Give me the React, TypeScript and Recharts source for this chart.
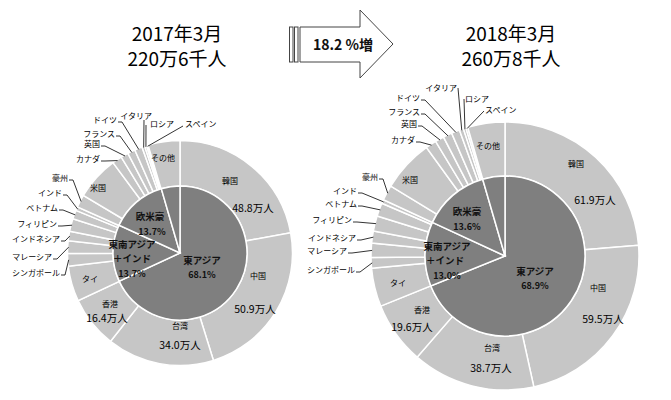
import React from 'react';
import { PieChart, Pie } from 'recharts';

// ---------- data ----------
const countries = [
  '韓国', '中国', '台湾', '香港', 'タイ', 'シンガポール', 'マレーシア', 'インドネシア',
  'フィリピン', 'ベトナム', 'インド', '豪州', '米国', 'カナダ', '英国', 'フランス',
  'ドイツ', 'イタリア', 'ロシア', 'スペイン', 'その他',
];
// visitors, 万人
const visitors2017 = [48.8, 50.9, 34.0, 16.4, 11.2, 4.0, 4.0, 3.0, 4.0, 2.8, 1.2, 4.0, 13.9, 3.1, 2.4, 2.4, 2.4, 0.9, 0.6, 0.5, 10.1];
const visitors2018 = [61.9, 59.5, 38.7, 19.6, 12.1, 3.3, 4.5, 3.8, 4.8, 4.2, 1.2, 4.8, 16.4, 3.4, 2.8, 2.8, 2.6, 1.3, 0.8, 0.6, 11.7];

const regions = ['東アジア', '東南アジア\n＋インド', '欧米豪', 'その他'];
const regionShare2017 = [68.1, 13.7, 13.7, 4.5];
const regionShare2018 = [68.9, 13.0, 13.6, 4.5];

const periods = ['2017年3月', '2018年3月'];
const totals = ['220万6千人', '260万8千人'];
const growthLabel = '18.2 %増';

// ---------- layout ----------
const FONT = "'Noto Sans CJK JP', 'Noto Sans', sans-serif";
const W = 671;
const H = 400;
const OUTER_FILL = '#c6c6c6';
const INNER_FILL = '#7f7f7f';

type Pt = [number, number];
type LabelLayout =
  | { kind: 'in'; name: Pt; value?: Pt }
  | { kind: 'out'; at: Pt; anchor: 'start' | 'end'; from?: Pt };

const outerLayout2017: LabelLayout[] = [
  { kind: 'in', name: [50, -73], value: [73, -46] },
  { kind: 'in', name: [78, 22], value: [75, 55] },
  { kind: 'in', name: [0, 72], value: [0, 91] },
  { kind: 'in', name: [-70, 50], value: [-73, 64] },
  { kind: 'in', name: [-90, 25] },
  { kind: 'out', at: [-120, 19], anchor: 'end' },
  { kind: 'out', at: [-128, 3], anchor: 'end' },
  { kind: 'out', at: [-120, -15], anchor: 'end' },
  { kind: 'out', at: [-123, -30], anchor: 'end' },
  { kind: 'out', at: [-122, -46], anchor: 'end' },
  { kind: 'out', at: [-118, -61], anchor: 'end' },
  { kind: 'out', at: [-112, -76], anchor: 'end' },
  { kind: 'in', name: [-82, -66] },
  { kind: 'out', at: [-80, -95], anchor: 'end' },
  { kind: 'out', at: [-80, -110], anchor: 'end' },
  { kind: 'out', at: [-65, -120], anchor: 'end' },
  { kind: 'out', at: [-63, -134], anchor: 'end' },
  { kind: 'out', at: [-28, -138], anchor: 'end', from: [-36, -133] },
  { kind: 'out', at: [-30, -130], anchor: 'start', from: [-34, -128] },
  { kind: 'out', at: [5, -130], anchor: 'start', from: [3, -127] },
  { kind: 'in', name: [-17, -96] },
];

const outerLayout2018: LabelLayout[] = [
  { kind: 'in', name: [71, -93], value: [90, -57] },
  { kind: 'in', name: [93, 31], value: [98, 62] },
  { kind: 'in', name: [-13, 91], value: [-14, 111] },
  { kind: 'in', name: [-83, 53], value: [-93, 70] },
  { kind: 'in', name: [-107, 26] },
  { kind: 'out', at: [-150, 13], anchor: 'end' },
  { kind: 'out', at: [-158, -6], anchor: 'end' },
  { kind: 'out', at: [-149, -19], anchor: 'end' },
  { kind: 'out', at: [-153, -37], anchor: 'end' },
  { kind: 'out', at: [-148, -53], anchor: 'end' },
  { kind: 'out', at: [-148, -66], anchor: 'end' },
  { kind: 'out', at: [-127, -80], anchor: 'end' },
  { kind: 'in', name: [-95, -77] },
  { kind: 'out', at: [-90, -117], anchor: 'end' },
  { kind: 'out', at: [-88, -133], anchor: 'end' },
  { kind: 'out', at: [-85, -145], anchor: 'end' },
  { kind: 'out', at: [-85, -159], anchor: 'end' },
  { kind: 'out', at: [-48, -169], anchor: 'end', from: [-47, -168] },
  { kind: 'out', at: [-40, -158], anchor: 'start', from: [-41, -157] },
  { kind: 'out', at: [-20, -147], anchor: 'start', from: [-21, -145] },
  { kind: 'in', name: [-17, -111] },
];

type InnerLayout = { lines: Pt[]; pct: Pt } | null;
const innerLayout2017: InnerLayout[] = [
  { lines: [[22, 7]], pct: [22, 21] },
  { lines: [[-48, -9], [-48, 5]], pct: [-48, 20] },
  { lines: [[-30, -37]], pct: [-28, -22] },
  null,
];
const innerLayout2018: InnerLayout[] = [
  { lines: [[30, 15]], pct: [30, 29] },
  { lines: [[-58, -10], [-60, 4]], pct: [-58, 19] },
  { lines: [[-38, -45]], pct: [-38, -30] },
  null,
];

const RAD = Math.PI / 180;
const polar = (cx: number, cy: number, r: number, angle: number): Pt => [
  cx + r * Math.cos(-angle * RAD),
  cy + r * Math.sin(-angle * RAD),
];

const makeOuterLabel = (layout: LabelLayout[]) => (p: any) => {
  const { cx, cy, midAngle, outerRadius, index, name, value } = p;
  const L = layout[index];
  if (!L) return null;
  if (L.kind === 'in') {
    return (
      <g key={`ol-${index}`}>
        <text x={cx + L.name[0]} y={cy + L.name[1]} fontSize={8} fontFamily={FONT} fill="#000"
          textAnchor="middle" dominantBaseline="central">{name}</text>
        {L.value && (
          <text x={cx + L.value[0]} y={cy + L.value[1]} fontSize={10.5} fontFamily={FONT} fill="#000"
            textAnchor="middle" dominantBaseline="central">{`${Number(value).toFixed(1)}万人`}</text>
        )}
      </g>
    );
  }
  const tx = cx + L.at[0];
  const ty = cy + L.at[1];
  const end = polar(cx, cy, outerRadius - 1, midAngle);
  let pts: Pt[];
  if (L.from) {
    pts = [[cx + L.from[0], cy + L.from[1]], end];
  } else {
    const p0: Pt = [tx + 1, ty + 3];
    const p1: Pt = [tx + 5, ty + 3];
    pts = [p0, p1, end];
  }
  return (
    <g key={`ol-${index}`}>
      <polyline points={pts.map((q) => q.join(',')).join(' ')} fill="none" stroke="#000" strokeWidth={0.8} />
      <text x={tx} y={ty} fontSize={8} fontFamily={FONT} fill="#000" textAnchor={L.anchor}
        dominantBaseline="central">{name}</text>
    </g>
  );
};

const makeInnerLabel = (layout: InnerLayout[]) => (p: any) => {
  const { cx, cy, index, name, value } = p;
  const L = layout[index];
  if (!L) return null;
  const lines = String(name).split('\n');
  return (
    <g key={`il-${index}`}>
      {lines.map((s, i) => (
        <text key={i} x={cx + L.lines[i][0]} y={cy + L.lines[i][1]} fontSize={9.5} fontWeight="bold"
          fontFamily={FONT} fill="#111" textAnchor="middle" dominantBaseline="central">{s}</text>
      ))}
      <text x={cx + L.pct[0]} y={cy + L.pct[1]} fontSize={9} fontWeight="bold" fontFamily={FONT}
        fill="#111" textAnchor="middle" dominantBaseline="central">{`${Number(value).toFixed(1)}%`}</text>
    </g>
  );
};

const outer2017 = countries.map((name, i) => ({ name, value: visitors2017[i] }));
const outer2018 = countries.map((name, i) => ({ name, value: visitors2018[i] }));
const inner2017 = regions.map((name, i) => ({ name, value: regionShare2017[i] }));
const inner2018 = regions.map((name, i) => ({ name, value: regionShare2018[i] }));

const Header = () => (
  <svg width={W} height={H} style={{ position: 'absolute', left: 0, top: 0, pointerEvents: 'none' }}>
    <g fontFamily={FONT} fill="#000" fontSize={19} textAnchor="middle">
      <text x={177} y={32} dominantBaseline="central">{periods[0]}</text>
      <text x={177} y={57} dominantBaseline="central">{totals[0]}</text>
      <text x={511} y={32} dominantBaseline="central">{periods[1]}</text>
      <text x={511} y={57} dominantBaseline="central">{totals[1]}</text>
    </g>
    <g stroke="#444" strokeWidth={1} fill="#fff">
      <rect x={289.5} y={27} width={3.5} height={35} />
      <rect x={294.5} y={27} width={3.5} height={35} />
      <path d="M300,27 L360,27 L360,10 L393,44 L360,78 L360,62 L300,62 Z" />
    </g>
    <text x={343} y={44} fontFamily={FONT} fontSize={14} fontWeight="bold" fill="#111" textAnchor="middle"
      dominantBaseline="central">{growthLabel}</text>
  </svg>
);

export default function App() {
  return (
    <div style={{ position: 'absolute', left: 0, top: 0, width: W, height: H, background: '#fff' }}>
      <PieChart width={W} height={H} margin={{ top: 0, right: 0, bottom: 0, left: 0 }}>
        <Pie data={outer2017} dataKey="value" nameKey="name" cx={180} cy={253} innerRadius={67} outerRadius={112.5}
          startAngle={90} endAngle={-270} fill={OUTER_FILL} stroke="#fff" strokeWidth={1.5}
          label={makeOuterLabel(outerLayout2017)} labelLine={false} isAnimationActive={false} />
        <Pie data={inner2017} dataKey="value" nameKey="name" cx={180} cy={253} innerRadius={0} outerRadius={67}
          startAngle={90} endAngle={-270} fill={INNER_FILL} stroke="#fff" strokeWidth={1.5}
          label={makeInnerLabel(innerLayout2017)} labelLine={false} isAnimationActive={false} />
        <Pie data={outer2018} dataKey="value" nameKey="name" cx={505} cy={256} innerRadius={80} outerRadius={134}
          startAngle={90} endAngle={-270} fill={OUTER_FILL} stroke="#fff" strokeWidth={1.5}
          label={makeOuterLabel(outerLayout2018)} labelLine={false} isAnimationActive={false} />
        <Pie data={inner2018} dataKey="value" nameKey="name" cx={505} cy={256} innerRadius={0} outerRadius={80}
          startAngle={90} endAngle={-270} fill={INNER_FILL} stroke="#fff" strokeWidth={1.5}
          label={makeInnerLabel(innerLayout2018)} labelLine={false} isAnimationActive={false} />
      </PieChart>
      <Header />
    </div>
  );
}
